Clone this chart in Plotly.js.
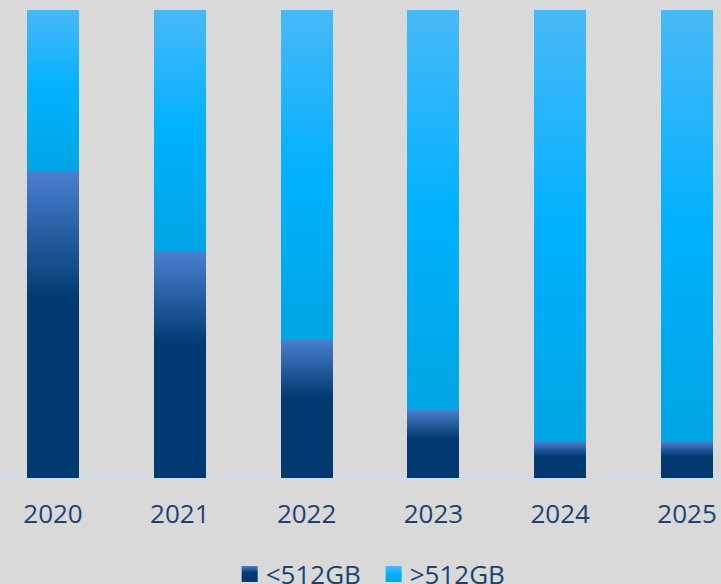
<!DOCTYPE html>
<html>
<head>
<meta charset="utf-8">
<script src="https://cdn.plot.ly/plotly-3.0.1.min.js"></script>
<style>
  html, body { margin: 0; padding: 0; background: #d9d9d9; }
  #chart { width: 721px; height: 584px; }
</style>
</head>
<body>
<div id="chart"></div>
<script>
// Data (share of units, %)
const years = ['2020', '2021', '2022', '2023', '2024', '2025'];
const under512 = [65.6, 48.5, 29.7, 14.6, 7.8, 7.8];
const over512 = [34.4, 51.5, 70.3, 85.4, 92.2, 92.2];
const seriesNames = ['<512GB', '>512GB'];

const textColor = '#1b4372';
const font = { family: '"Open Sans", "Noto Sans", sans-serif', size: 26, color: textColor };

const traces = [
  {
    type: 'bar', name: seriesNames[0], x: years, y: under512,
    marker: { color: '#003a70', line: { width: 0 } }, width: 0.41,
    hoverinfo: 'skip'
  },
  {
    type: 'bar', name: seriesNames[1], x: years, y: over512,
    marker: { color: '#00aef5', line: { width: 0 } }, width: 0.41,
    hoverinfo: 'skip'
  }
];

const layout = {
  width: 721, height: 584,
  paper_bgcolor: '#d9d9d9', plot_bgcolor: '#d9d9d9',
  margin: { l: 0, r: 0, t: 10, b: 106, pad: 0 },
  barmode: 'stack',
  font: font,
  showlegend: true,
  legend: {
    orientation: 'h', xref: 'container', yref: 'container',
    x: 0.313, xanchor: 'left', y: 0.017, yanchor: 'middle',
    font: font, bgcolor: 'rgba(0,0,0,0)', traceorder: 'normal',
    entrywidth: 99, entrywidthmode: 'pixels'
  },
  xaxis: {
    type: 'category', range: [-0.418, 5.268], fixedrange: true,
    showgrid: false, zeroline: false,
    showline: true, linecolor: '#c8def3', linewidth: 2,
    ticks: '', tickfont: font, ticklabelstandoff: 12
  },
  yaxis: {
    range: [0, 100], visible: false, showgrid: false, zeroline: false, fixedrange: true
  }
};

function addGradients(gd) {
  const svgNS = 'http://www.w3.org/2000/svg';
  const svg = gd.querySelector('.main-svg');
  let defs = svg.querySelector('defs');
  if (!defs) { defs = document.createElementNS(svgNS, 'defs'); svg.insertBefore(defs, svg.firstChild); }
  const grads = {
    gUnder: [[0, '#4a80d0'], [0.42, '#003a70'], [1, '#003a70']],
    gOver: [[0, '#48b9f6'], [0.5, '#00b1fe'], [1, '#00a5e3']]
  };
  Object.keys(grads).forEach(id => {
    const lg = document.createElementNS(svgNS, 'linearGradient');
    lg.setAttribute('id', id);
    lg.setAttribute('x1', '0'); lg.setAttribute('y1', '0');
    lg.setAttribute('x2', '0'); lg.setAttribute('y2', '1');
    grads[id].forEach(([off, col]) => {
      const st = document.createElementNS(svgNS, 'stop');
      st.setAttribute('offset', off);
      st.setAttribute('stop-color', col);
      lg.appendChild(st);
    });
    defs.appendChild(lg);
  });
  const ids = ['gUnder', 'gOver'];
  gd.querySelectorAll('.barlayer .trace').forEach((tr, i) => {
    tr.querySelectorAll('.point path').forEach(p => { p.style.fill = 'url(#' + ids[i] + ')'; });
  });
  gd.querySelectorAll('.legend .traces').forEach((tr, i) => {
    tr.querySelectorAll('.legendpoints path').forEach(p => {
      p.setAttribute('d', 'M12,8H-4V-8H12Z');
      p.style.fill = 'url(#' + ids[i] + ')';
    });
  });
}

Plotly.newPlot('chart', traces, layout, { staticPlot: true, displayModeBar: false })
  .then(addGradients);
</script>
</body>
</html>
